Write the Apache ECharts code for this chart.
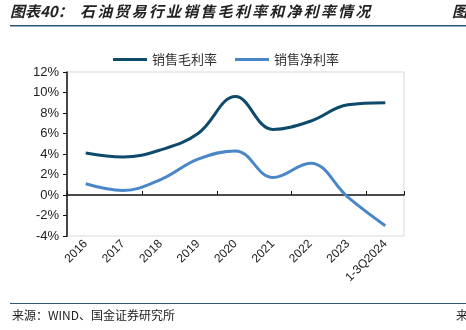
<!DOCTYPE html>
<html><head><meta charset="utf-8">
<script src="https://cdn.jsdelivr.net/npm/echarts@6/dist/echarts.min.js"></script>
<style>html,body{margin:0;padding:0;background:#fff}#c{width:466px;height:330px}</style>
</head><body><div id="c"></div>
<script>
const categories = ['2016','2017','2018','2019','2020','2021','2022','2023','1-3Q2024'];
const grossMargin = [4.1, 3.7, 4.4, 6.0, 9.6, 6.4, 7.2, 8.8, 9.0];
const netMargin = [1.1, 0.45, 1.5, 3.5, 4.3, 1.7, 3.1, -0.2, -3.0];
const seriesNames = ['销售毛利率', '销售净利率'];
const titlePrefix = '图表40：';
const titleText = '石油贸易行业销售毛利率和净利率情况';
const sourceText = '来源：WIND、国金证券研究所';

const chart = echarts.init(document.getElementById('c'), null, {renderer:'canvas'});
const cjk = '"Noto Sans CJK SC", sans-serif';
const titleFont = 'italic bold 15px "Noto Sans CJK SC"';
const graphics = [
  {type:'text', left:10, top:4, style:{text:titlePrefix, font:titleFont, fill:'#222'}},
  {type:'text', left:452, top:4, style:{text:'图', font:titleFont, fill:'#222'}},
  {type:'rect', shape:{x:10, y:25, width:456, height:1.5}, style:{fill:'#2d5878'}},
  {type:'rect', shape:{x:10, y:303, width:456, height:1}, style:{fill:'#2d5878'}},
  {type:'text', left:12, top:309, style:{text:sourceText, font:'12px "Noto Sans CJK SC"', fill:'#222'}},
  {type:'text', left:456, top:309, style:{text:'来', font:'12px "Noto Sans CJK SC"', fill:'#222'}}
];
Array.from(titleText).forEach((ch, i) => {
  graphics.push({type:'text', left:80 + i*17.2, top:4, style:{text:ch, font:titleFont, fill:'#222'}});
});
chart.setOption({
  animation:false,
  backgroundColor:'#fff',
  graphic:graphics,
  legend:{
    left:108, top:48, itemGap:18, icon:'rect', itemWidth:34, itemHeight:3,
    textStyle:{fontFamily:cjk, fontSize:13, color:'#333'},
    data:seriesNames
  },
  grid:{left:67, right:62, top:72, bottom:94, show:true, borderColor:'#d9d9d9', borderWidth:1},
  xAxis:[
    {type:'category', data:categories, boundaryGap:true, position:'bottom',
     axisLine:{onZero:false, show:false}, axisTick:{show:false},
     axisLabel:{rotate:45, fontFamily:'"Liberation Sans", Arial', fontSize:12, color:'#222', margin:6, interval:0}},
    {type:'category', data:categories, boundaryGap:true, position:'bottom',
     axisLine:{onZero:true, lineStyle:{color:'#111', width:1.5}},
     axisTick:{show:true, inside:true, length:4, lineStyle:{color:'#111'}},
     axisLabel:{show:false}}
  ],
  yAxis:{type:'value', min:-4, max:12, interval:2,
    axisLine:{show:true, lineStyle:{color:'#111', width:1.5}},
    axisTick:{show:true, length:4, lineStyle:{color:'#111'}},
    splitLine:{show:false},
    axisLabel:{formatter:'{value}%', fontFamily:'"Liberation Sans", Arial', fontSize:13, color:'#222', margin:8}},
  series:[
    {name:seriesNames[0], type:'line', data:grossMargin, smooth:0.4, showSymbol:false, symbol:'none',
     lineStyle:{color:'#0d4a6b', width:3}, itemStyle:{color:'#0d4a6b'}},
    {name:seriesNames[1], type:'line', data:netMargin, smooth:0.4, showSymbol:false, symbol:'none',
     lineStyle:{color:'#4a87c8', width:3}, itemStyle:{color:'#4a87c8'}}
  ]
});
</script></body></html>
